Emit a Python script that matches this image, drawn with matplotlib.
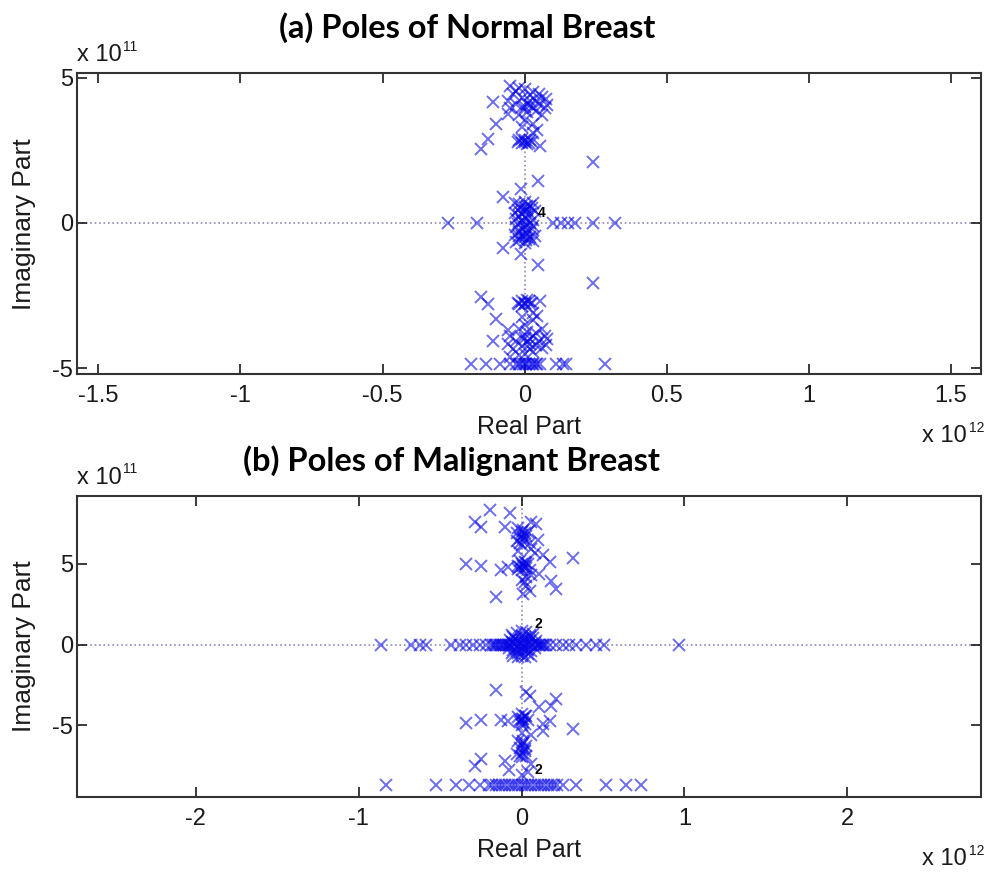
import numpy as np
import matplotlib
matplotlib.use('Agg')
import matplotlib.pyplot as plt

plt.rcParams['font.family'] = ['Liberation Sans', 'DejaVu Sans']
plt.rcParams['axes.unicode_minus'] = False

# Polos (real en 1e12, imaginaria en 1e11)
normal_poles = [
    # cúmulo central
    (-0.02, 0.65), (0.01, 0.6), (0.025, 0.5), (-0.025, 0.45), (0.0, 0.4), (0.02, 0.3),
    (-0.02, 0.25), (0.01, 0.15), (-0.01, 0.05), (0.02, 0.0), (-0.025, -0.05), (0.0, -0.15),
    (0.025, -0.2), (-0.02, -0.3), (0.01, -0.35), (-0.01, -0.45), (0.02, -0.5), (-0.02, -0.58),
    (0.005, -0.6), (0.03, 0.1), (-0.03, 0.15), (0.03, -0.1), (-0.03, -0.15), (0.0, 0.55), (0.0, -0.5),
    (-0.035, 0.7), (0.0, 0.72), (0.03, 0.68), (-0.035, 0.35), (0.035, 0.4), (-0.035, -0.4),
    (0.035, -0.45), (-0.03, -0.65), (0.03, -0.62), (0.0, -0.68), (-0.01, 0.3), (0.01, -0.25),
    (0.0, 0.2), (0.0, -0.05), (-0.015, 0.5), (0.015, -0.55), (0.02, 0.6), (-0.02, -0.45),
    (0.01, 0.45), (-0.01, -0.2),
    # eje real
    (-0.27, 0.0), (-0.168, 0.0), (0.10, 0.0), (0.129, 0.0), (0.153, 0.0), (0.176, 0.0),
    (0.24, 0.0), (0.317, 0.0),
    # aislados
    (-0.076, 0.9), (-0.012, 1.16), (0.047, 1.45), (0.24, 2.08),
    (-0.076, -0.87), (-0.012, -1.06), (0.047, -1.43), (0.24, -2.06),
    # cúmulo en +2.8
    (-0.02, 2.85), (0.0, 2.8), (0.02, 2.85), (-0.01, 2.75), (0.015, 2.75), (-0.025, 2.8), (0.025, 2.8),
    (-0.01, 2.9), (0.01, 2.7), (0.0, 2.85), (0.053, 2.65), (0.03, 3.1),
    # cúmulo en -2.8
    (-0.02, -2.8), (0.0, -2.75), (0.02, -2.8), (-0.01, -2.7), (0.015, -2.7), (-0.025, -2.75), (0.025, -2.75),
    (-0.01, -2.85), (0.01, -2.65), (0.0, -2.8), (0.053, -2.69), (0.03, -3.1),
    # parte superior
    (-0.05, 4.7), (-0.02, 4.65), (0.0, 4.6), (0.03, 4.5), (-0.04, 4.45), (0.06, 4.35), (0.075, 4.25),
    (-0.01, 4.3), (0.02, 4.2), (0.05, 4.1), (-0.03, 4.1), (0.0, 4.0), (0.07, 3.95), (0.04, 3.85),
    (-0.05, 3.95), (0.01, 3.8), (-0.02, 3.7), (0.06, 3.7), (0.0, 3.55), (0.03, 3.4), (-0.01, 3.3),
    (0.045, 3.2), (0.08, 4.05), (-0.06, 4.2),
    (0.02, 4.05), (0.03, 3.95), (0.01, 4.1), (0.04, 4.2), (-0.01, 4.0), (0.02, 4.4), (-0.03, 4.55),
    (0.05, 4.45),
    (-0.11, 4.15), (-0.153, 2.54), (-0.129, 2.89), (-0.1, 3.4), (-0.059, 3.75),
    # parte inferior
    (-0.05, -4.6), (-0.02, -4.55), (0.0, -4.5), (0.03, -4.45), (-0.04, -4.35), (0.06, -4.3), (0.075, -4.2),
    (-0.01, -4.25), (0.02, -4.15), (0.05, -4.05), (-0.03, -4.05), (0.0, -3.95), (0.07, -3.9), (0.04, -3.8),
    (-0.05, -3.9), (0.01, -3.75), (-0.02, -3.65), (0.06, -3.65), (0.0, -3.5), (0.03, -3.35), (-0.01, -3.25),
    (0.045, -3.2), (0.08, -4.0), (-0.06, -4.15),
    (0.02, -4.0), (0.03, -3.9), (0.01, -4.1), (0.04, -4.2), (-0.01, -3.95), (0.02, -4.35),
    (-0.11, -4.07), (-0.153, -2.54), (-0.129, -2.8), (-0.1, -3.3), (-0.059, -3.7),
    # fila inferior
    (-0.188, -4.85), (-0.135, -4.85), (-0.088, -4.85), (-0.053, -4.85), (-0.03, -4.85), (-0.015, -4.85),
    (0.0, -4.85), (0.015, -4.85), (0.03, -4.85), (0.045, -4.85), (0.053, -4.85), (0.111, -4.85),
    (0.135, -4.85), (0.147, -4.85), (0.282, -4.85),
    (-0.02, -4.85), (0.005, -4.85), (0.025, -4.85), (0.04, -4.85), (-0.005, -4.85),
]

malignant_poles = [
    # cúmulo central
    (0.0, 0.85), (0.03, 0.75), (-0.03, 0.7), (0.05, 0.6), (0.0, 0.55), (-0.05, 0.45), (0.07, 0.4),
    (0.02, 0.35), (-0.02, 0.25), (0.05, 0.2), (-0.06, 0.15), (0.08, 0.1), (0.0, 0.1), (-0.04, 0.05),
    (0.04, 0.0), (-0.07, -0.05), (0.06, -0.05), (0.0, -0.1), (-0.03, -0.2), (0.03, -0.25),
    (-0.05, -0.35), (0.06, -0.4), (0.0, -0.45), (-0.02, -0.55), (0.04, -0.6), (0.0, -0.7),
    (0.02, -0.8), (-0.02, -0.75), (0.09, 0.25), (-0.06, -0.5),
    (-0.06, 0.6), (0.07, 0.65), (-0.07, 0.3), (0.08, -0.2), (-0.08, -0.2), (0.06, -0.7),
    (-0.05, -0.7), (0.02, 0.5), (-0.02, 0.0), (0.02, -0.1), (0.0, 0.3), (-0.04, 0.35),
    (0.04, -0.35), (0.0, -0.3), (0.03, 0.1), (-0.03, -0.4), (0.05, 0.45), (-0.05, 0.1),
    # eje real
    (-0.861, 0.0), (-0.677, 0.0), (-0.626, 0.0), (-0.585, 0.0), (-0.431, 0.0), (-0.38, 0.0),
    (-0.34, 0.0), (-0.30, 0.0), (-0.258, 0.0), (-0.217, 0.0), (-0.176, 0.0), (-0.155, 0.0),
    (-0.135, 0.0), (-0.115, 0.0), (-0.094, 0.0), (-0.075, 0.0), (0.1, 0.0), (0.115, 0.0),
    (0.131, 0.0), (0.15, 0.0), (0.172, 0.0), (0.213, 0.0), (0.254, 0.0), (0.294, 0.0),
    (0.335, 0.0), (0.397, 0.0), (0.458, 0.0), (0.509, 0.0), (0.969, 0.0),
    (-0.19, 0.0), (-0.165, 0.0), (-0.145, 0.0), (-0.125, 0.0), (-0.105, 0.0), (-0.085, 0.0),
    (0.09, 0.0), (0.105, 0.0), (0.125, 0.0), (0.14, 0.0),
    # parte superior
    (-0.196, 8.36), (-0.074, 8.16), (-0.288, 7.6), (-0.247, 7.29), (-0.104, 7.29), (0.09, 7.5), (0.06, 7.6),
    (-0.02, 7.2), (0.01, 7.1), (0.04, 7.0), (-0.03, 6.9), (0.0, 6.8), (0.03, 6.7), (-0.01, 6.6),
    (0.02, 6.5), (-0.03, 6.4), (0.05, 6.3), (0.0, 6.2), (0.1, 6.5), (0.06, 5.9), (0.08, 5.7), (-0.02, 5.8),
    (0.0, 7.0), (0.02, 6.9), (-0.01, 6.3), (0.01, 6.6),
    (-0.34, 5.0), (-0.247, 4.84), (-0.125, 4.64), (-0.084, 4.8),
    (-0.01, 5.2), (0.02, 5.1), (0.04, 5.0), (-0.02, 4.9), (0.01, 4.85), (0.03, 4.75), (0.0, 4.65),
    (0.05, 4.6), (-0.02, 4.7), (0.0, 5.0), (0.02, 4.9), (-0.01, 4.8), (0.03, 5.05),
    (0.131, 5.53), (0.172, 5.11), (0.315, 5.38), (0.11, 4.39), (0.18, 3.97), (0.213, 3.46),
    (0.029, 3.66), (0.05, 3.35), (-0.155, 2.94), (0.008, 3.15), (0.03, 4.2), (0.0, 4.0), (0.06, 4.3),
    (0.02, 3.9),
    # parte inferior
    (-0.155, -2.82), (0.029, -2.96), (0.05, -3.17), (0.213, -3.37), (0.18, -3.79), (0.11, -3.89),
    (-0.34, -4.89), (-0.247, -4.68), (-0.125, -4.68), (-0.084, -4.72),
    (0.0, -4.3), (0.03, -4.4), (-0.02, -4.5), (0.01, -4.6), (0.04, -4.7), (-0.01, -4.8), (0.02, -4.9),
    (0.0, -5.0), (0.0, -4.6), (0.02, -4.45), (0.01, -4.8), (-0.01, -4.65),
    (0.131, -4.93), (0.172, -4.72), (0.315, -5.24), (0.13, -5.34), (0.06, -5.6), (0.0, -5.5),
    (-0.02, -6.0), (0.01, -6.1), (0.03, -6.3), (-0.01, -6.4), (0.02, -6.5), (0.0, -6.7), (-0.03, -6.8),
    (0.03, -6.9), (0.0, -7.0), (0.0, -6.2), (0.02, -6.6), (-0.01, -6.9), (0.01, -6.0),
    (-0.288, -7.5), (-0.247, -7.1), (-0.104, -7.2), (0.06, -7.4), (-0.08, -7.8), (0.04, -7.9), (0.0, -8.1),
    # fila inferior
    (-0.83, -8.7), (-0.524, -8.7), (-0.40, -8.7), (-0.32, -8.7), (-0.258, -8.7), (-0.2, -8.7),
    (-0.16, -8.7), (-0.12, -8.7), (-0.08, -8.7), (-0.04, -8.7), (0.0, -8.7), (0.04, -8.7), (0.08, -8.7),
    (0.12, -8.7), (0.16, -8.7), (0.2, -8.7), (0.254, -8.7), (0.335, -8.7), (0.519, -8.7), (0.642, -8.7),
    (0.734, -8.7),
    (-0.18, -8.7), (-0.14, -8.7), (-0.1, -8.7), (-0.06, -8.7), (-0.02, -8.7), (0.02, -8.7), (0.06, -8.7),
    (0.1, -8.7), (0.14, -8.7), (0.18, -8.7), (0.22, -8.7),
]

# etiquetas de multiplicidad
normal_mult = [((0.06, 0.35), '4')]
malignant_mult = [((0.1, 1.3), '2'), ((0.1, -7.8), '2')]

titles = ['(a) Poles of Normal Breast', '(b) Poles of Malignant Breast']
xticks_list = [[-1.5, -1, -0.5, 0, 0.5, 1, 1.5], [-2, -1, 0, 1, 2]]
yticks_list = [[-5, 0, 5], [-5, 0, 5]]
xlims = [(-1.575, 1.605), (-2.73, 2.82)]
ylims = [(-5.2, 5.15), (-9.45, 9.2)]

fig = plt.figure(figsize=(9.91, 8.72), dpi=100)
ax_a = fig.add_axes([0.0777, 0.571, 0.912, 0.345])
ax_b = fig.add_axes([0.0777, 0.086, 0.912, 0.345])

texto = '#1a1a1a'
datos = [(ax_a, normal_poles, normal_mult), (ax_b, malignant_poles, malignant_mult)]
for i, (ax, polos, mult) in enumerate(datos):
    re = np.array([p[0] for p in polos])
    im = np.array([p[1] for p in polos])
    ax.axhline(0, color='#8a8ab8', linestyle=':', linewidth=1.2, zorder=1)
    ax.axvline(0, color='#8a8ab8', linestyle=':', linewidth=1.2, zorder=1)
    ax.plot(re, im, 'x', color='#0505e6', alpha=0.58, markersize=8, markeredgewidth=1.4, zorder=2)
    for (xm, ym), t in mult:
        ax.text(xm, ym, t, fontsize=10, fontweight='bold', color='black', ha='center', va='center')
    ax.set_xlim(*xlims[i])
    ax.set_ylim(*ylims[i])
    ax.set_xticks(xticks_list[i])
    ax.set_yticks(yticks_list[i])
    ax.set_xticklabels([f'{v:g}' for v in xticks_list[i]])
    ax.tick_params(direction='in', length=7, width=1.2, top=True, right=True,
                   labelsize=17, colors=texto)
    ax.tick_params(axis='x', pad=8)
    ax.tick_params(axis='y', pad=3)
    for s in ax.spines.values():
        s.set_linewidth(1.5)
        s.set_color('#333333')
    ax.set_xlabel('Real Part', fontsize=18, color=texto)
    ax.xaxis.set_label_coords(0.5, -0.176)
    ax.xaxis.label.set_va('center')
    ax.set_ylabel('Imaginary Part', fontsize=19, color=texto)
    ax.yaxis.set_label_coords(-0.0586, 0.5)
    ax.yaxis.label.set_va('center')
    # factores de escala al estilo MATLAB
    t1 = ax.text(0.0, 1.025, 'x 10', transform=ax.transAxes, fontsize=17,
                 ha='left', va='bottom', color=texto)
    ax.annotate('11', xy=(1, 1), xycoords=t1, xytext=(1, 3), textcoords='offset points',
                fontsize=10, ha='left', va='top', color=texto)
    t2 = ax.text(0.985, -0.205, 'x 10', transform=ax.transAxes, fontsize=17,
                 ha='right', va='center', color=texto)
    ax.annotate('12', xy=(1, 1), xycoords=t2, xytext=(1, 3), textcoords='offset points',
                fontsize=10, ha='left', va='top', color=texto)

fig.text(0.471, 0.968, titles[0], fontsize=23.5, fontweight='bold', family='Lato',
         ha='center', va='center')
fig.text(0.456, 0.472, titles[1], fontsize=23.5, fontweight='bold', family='Lato',
         ha='center', va='center')

fig.savefig('out.png', dpi=100)
